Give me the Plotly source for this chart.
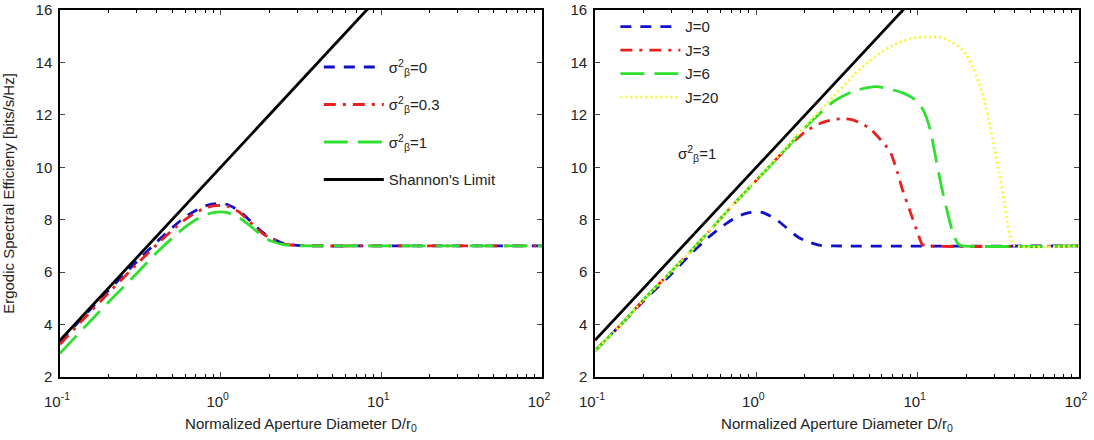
import plotly.graph_objects as go

# ---------------- data ----------------
D_shannon = [0.1, 1.0, 10.0]
se_shannon = [3.4, 10.0, 16.6]

# left panel: sigma_beta^2 = 0, 0.3, 1
D_left = [0.1, 0.15, 0.2, 0.3, 0.4, 0.5, 0.6, 0.7, 0.8, 0.9, 1.0, 1.1, 1.3, 1.5, 1.8, 2.0, 2.5, 3.0, 4.0, 10.0, 100.0]
se_s0 = [3.35, 4.5, 5.3, 6.4, 7.15, 7.7, 8.1, 8.35, 8.52, 8.6, 8.62, 8.58, 8.35, 8.0, 7.55, 7.35, 7.08, 7.02, 7.0, 7.0, 7.0]
se_s03 = [3.25, 4.4, 5.2, 6.3, 7.05, 7.6, 8.0, 8.27, 8.45, 8.53, 8.55, 8.52, 8.3, 7.95, 7.5, 7.32, 7.07, 7.02, 7.0, 7.0, 7.0]
se_s1 = [2.9, 4.05, 4.85, 5.95, 6.75, 7.3, 7.72, 8.0, 8.18, 8.27, 8.3, 8.27, 8.08, 7.8, 7.4, 7.22, 7.04, 7.01, 7.0, 7.0, 7.0]

# right panel: sigma_beta^2 = 1, J = 0, 3, 6, 20
D_j0 = [0.1, 0.15, 0.2, 0.3, 0.4, 0.5, 0.6, 0.7, 0.8, 0.9, 1.0, 1.1, 1.3, 1.5, 1.8, 2.0, 2.5, 3.0, 100.0]
se_j0 = [3.0, 4.1, 4.9, 5.95, 6.75, 7.3, 7.7, 7.98, 8.17, 8.27, 8.3, 8.27, 8.05, 7.75, 7.35, 7.2, 7.02, 7.0, 7.0]

D_j3 = [0.1, 0.15, 0.2, 0.3, 0.5, 0.7, 1.0, 1.5, 2.0, 2.5, 3.0, 3.55, 4.0, 5.0, 6.0, 6.75, 7.5, 8.0, 9.0, 10.0, 10.7, 11.5, 100.0]
se_j3 = [3.0, 4.1, 4.95, 6.05, 7.5, 8.5, 9.5, 10.65, 11.35, 11.68, 11.82, 11.85, 11.8, 11.5, 11.0, 10.6, 9.8, 9.2, 8.3, 7.5, 7.05, 7.0, 7.0]

D_j6 = [0.1, 0.15, 0.2, 0.3, 0.5, 0.7, 1.0, 1.5, 2.0, 3.0, 4.0, 5.0, 5.6, 7.0, 8.0, 9.0, 10.0, 11.0, 12.0, 13.0, 14.0, 15.0, 16.0, 17.0, 18.0, 19.0, 100.0]
se_j6 = [3.0, 4.1, 4.95, 6.05, 7.5, 8.5, 9.5, 10.65, 11.5, 12.5, 12.9, 13.05, 13.08, 12.95, 12.85, 12.7, 12.5, 12.1, 11.4, 10.3, 9.3, 8.5, 7.8, 7.3, 7.05, 7.0, 7.0]

D_j20 = [0.1, 0.15, 0.2, 0.3, 0.5, 0.7, 1.0, 1.5, 2.0, 3.0, 4.0, 5.0, 6.0, 7.0, 8.0, 9.0, 10.0, 12.0, 14.0, 16.0, 18.0, 20.0, 22.0, 24.0, 26.0, 28.0, 30.0, 32.0, 34.0, 36.0, 38.0, 40.0, 100.0]
se_j20 = [3.0, 4.1, 4.95, 6.05, 7.5, 8.5, 9.52, 10.7, 11.55, 12.7, 13.5, 14.05, 14.4, 14.65, 14.8, 14.9, 14.95, 14.98, 14.95, 14.8, 14.6, 14.3, 13.8, 13.2, 12.5, 11.6, 10.7, 9.8, 8.9, 7.9, 7.2, 7.0, 7.0]

left_names = ["σ<sup>2</sup><sub>β</sub>=0", "σ<sup>2</sup><sub>β</sub>=0.3", "σ<sup>2</sup><sub>β</sub>=1", "Shannon's Limit"]
right_names = ["J=0", "J=3", "J=6", "J=20"]
x_tickvals = [0.1, 1, 10, 100]
x_ticktext = ["10<sup>-1</sup>", "10<sup>0</sup>", "10<sup>1</sup>", "10<sup>2</sup>"]
x_minor = [m * d for d in (0.1, 1, 10) for m in range(2, 10)]
y_tickvals = [2, 4, 6, 8, 10, 12, 14, 16]

BLUE = "#1010c8"
RED = "#e82020"
GREEN = "#30e030"
YELLOW = "#f8f838"
BLACK = "#000000"
W = 2.8

fig = go.Figure()

def add(x, y, name, color, dash, xa, ya, legend, width=W, group=None):
    fig.add_trace(go.Scatter(x=x, y=y, mode="lines", name=name,
                             line=dict(color=color, dash=dash, width=width, shape="spline", smoothing=0.6),
                             xaxis=xa, yaxis=ya, legend=legend, legendgroup=group or name))

# left panel
add(D_left, se_s0, left_names[0], BLUE, "11px,9px", "x", "y", "legend")
add(D_left, se_s03, left_names[1], RED, "12px,7px,3px,7px", "x", "y", "legend")
add(D_left, se_s1, left_names[2], GREEN, "24px,10px", "x", "y", "legend")
fig.add_trace(go.Scatter(x=D_shannon, y=se_shannon, mode="lines", name=left_names[3],
                         line=dict(color=BLACK, width=W), xaxis="x", yaxis="y", legend="legend",
                         legendgroup="sh"))

# right panel
add(D_j0, se_j0, right_names[0], BLUE, "11px,9px", "x2", "y2", "legend2")
add(D_j3, se_j3, right_names[1], RED, "12px,7px,3px,7px", "x2", "y2", "legend2")
add(D_j6, se_j6, right_names[2], GREEN, "24px,10px", "x2", "y2", "legend2")
add(D_j20, se_j20, right_names[3], YELLOW, "2px,3px", "x2", "y2", "legend2")
fig.add_trace(go.Scatter(x=D_shannon, y=se_shannon, mode="lines", name="Shannon",
                         line=dict(color=BLACK, width=W), xaxis="x2", yaxis="y2", showlegend=False))

FONT = dict(family="Liberation Sans, Arial, sans-serif", size=15, color="#222222")

xcommon = dict(type="log", range=[-1, 2], tickvals=x_tickvals, ticktext=x_ticktext,
               ticks="inside", ticklen=5, mirror="allticks", showline=True, linecolor="black",
               linewidth=1.5, showgrid=False, zeroline=False, tickfont=FONT,
               ticklabelshift=-3, ticklabelstandoff=10, ticklabeloverflow="allow",
               minor=dict(tickmode="array", tickvals=x_minor, ticks="inside", ticklen=3,
                          tickcolor="black", showgrid=False),
               title=dict(text="Normalized Aperture Diameter D/r<sub>0</sub>", font=FONT, standoff=10))
ycommon = dict(range=[2, 16], tickvals=y_tickvals, ticks="inside", ticklen=5, mirror="allticks",
               showline=True, linecolor="black", linewidth=1.5, showgrid=False, zeroline=False,
               tickfont=FONT, ticklabelstandoff=3)

fig.update_layout(
    width=1094, height=440,
    margin=dict(l=60, r=15, t=10, b=63, autoexpand=False),
    paper_bgcolor="white", plot_bgcolor="white",
    font=FONT,
    xaxis=dict(domain=[0, 0.473], anchor="y", **xcommon),
    yaxis=dict(domain=[0, 1], anchor="x",
               title=dict(text="Ergodic Spectral Efficieny [bits/s/Hz]", font=FONT, standoff=18),
               **ycommon),
    xaxis2=dict(domain=[0.525, 1], anchor="y2", **xcommon),
    yaxis2=dict(domain=[0, 1], anchor="x2", **ycommon),
    legend=dict(x=0.254, y=0.889, xanchor="left", yanchor="top", bgcolor="rgba(255,255,255,0)",
                font=FONT, itemwidth=60, tracegroupgap=15, traceorder="grouped"),
    legend2=dict(x=0.545, y=0.999, xanchor="left", yanchor="top", bgcolor="rgba(255,255,255,0)",
                 font=FONT, itemwidth=60, tracegroupgap=1, traceorder="grouped"),
    annotations=[dict(text="σ<sup>2</sup><sub>β</sub>=1", x=-0.37, y=10.52, xref="x2", yref="y2",
                      xanchor="center", yanchor="middle", showarrow=False, font=FONT)],
    showlegend=True,
)

fig.write_html("out.html", config={"displayModeBar": False},
               post_script="document.body.style.margin='0';document.body.style.overflow='hidden';")
